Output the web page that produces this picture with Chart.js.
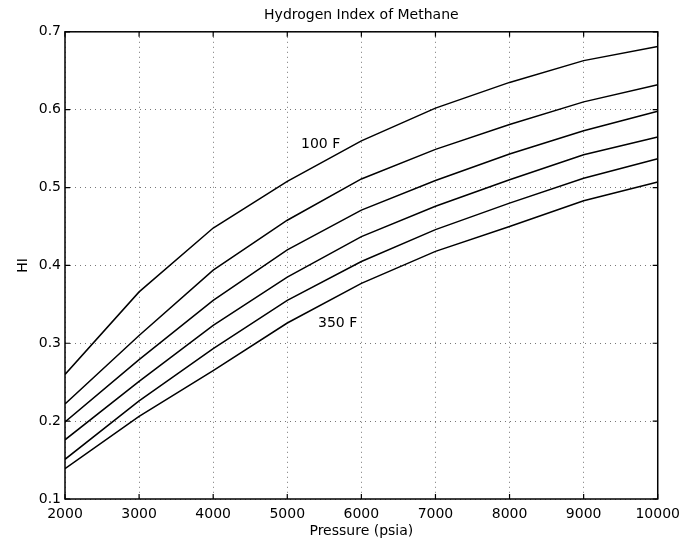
<!DOCTYPE html>
<html>
<head>
<meta charset="utf-8">
<title>Hydrogen Index of Methane</title>
<script src="https://cdn.jsdelivr.net/npm/chart.js@4"></script>
<style>
  html, body { margin: 0; padding: 0; background: #fff; }
  canvas { display: block; }
</style>
</head>
<body>
<canvas id="chart" width="687" height="545"></canvas>
<script>
// pressure in psia, HI for 100 F .. 350 F (top to bottom)
const pressure = [2000, 3000, 4000, 5000, 6000, 7000, 8000, 9000, 10000];
const hi100 = [0.260, 0.366, 0.448, 0.508, 0.560, 0.602, 0.635, 0.663, 0.681];
const hi150 = [0.222, 0.310, 0.394, 0.458, 0.511, 0.549, 0.581, 0.610, 0.632];
const hi200 = [0.199, 0.279, 0.355, 0.420, 0.471, 0.509, 0.543, 0.573, 0.598];
const hi250 = [0.176, 0.251, 0.323, 0.385, 0.437, 0.476, 0.510, 0.542, 0.565];
const hi300 = [0.151, 0.226, 0.293, 0.355, 0.405, 0.446, 0.480, 0.512, 0.537];
const hi350 = [0.139, 0.206, 0.265, 0.326, 0.377, 0.418, 0.450, 0.483, 0.507];

const curveLabels = [
  { text: "100 F", x: 5450, y: 0.555 },
  { text: "350 F", x: 5680, y: 0.326 }
];

const FONT = "'DejaVu Sans', sans-serif";
Chart.defaults.font.family = FONT;
Chart.defaults.color = "#000";

function toPoints(values) {
  return values.map((v, i) => ({ x: pressure[i], y: v }));
}

const series = [hi100, hi150, hi200, hi250, hi300, hi350];

// box round the plot, inward tick marks and the two curve labels
const matlabFrame = {
  id: "matlabFrame",
  afterDraw(chart) {
    const { ctx, chartArea: a, scales } = chart;
    const len = 5;
    ctx.save();
    ctx.strokeStyle = "#000";
    ctx.lineWidth = 1.5;
    ctx.strokeRect(a.left, a.top, a.right - a.left, a.bottom - a.top);
    ctx.lineWidth = 1.2;
    ctx.beginPath();
    scales.x.ticks.forEach(t => {
      const px = scales.x.getPixelForValue(t.value);
      ctx.moveTo(px, a.bottom); ctx.lineTo(px, a.bottom - len);
      ctx.moveTo(px, a.top); ctx.lineTo(px, a.top + len);
    });
    scales.y.ticks.forEach(t => {
      const py = scales.y.getPixelForValue(t.value);
      ctx.moveTo(a.left, py); ctx.lineTo(a.left + len, py);
      ctx.moveTo(a.right, py); ctx.lineTo(a.right - len, py);
    });
    ctx.stroke();

    ctx.fillStyle = "#000";
    ctx.font = "14px " + FONT;
    ctx.textAlign = "center";
    ctx.textBaseline = "middle";
    curveLabels.forEach(l => {
      ctx.fillText(l.text, scales.x.getPixelForValue(l.x), scales.y.getPixelForValue(l.y));
    });
    ctx.restore();
  }
};

new Chart(document.getElementById("chart"), {
  type: "line",
  data: {
    datasets: series.map(s => ({
      data: toPoints(s),
      borderColor: "#000",
      borderWidth: 1.5,
      pointRadius: 0,
      tension: 0,
      fill: false
    }))
  },
  options: {
    responsive: false,
    animation: false,
    layout: { padding: { left: 0, right: 29, top: 0, bottom: 0 } },
    scales: {
      x: {
        type: "linear",
        min: 2000,
        max: 10000,
        ticks: {
          stepSize: 1000,
          padding: 7,
          maxRotation: 0,
          color: "#000",
          font: { size: 14 },
          callback: v => String(v)
        },
        grid: { color: "#777", lineWidth: 1, drawTicks: false },
        border: { display: false, dash: [1, 4] },
        title: {
          display: true,
          text: "Pressure (psia)",
          color: "#000",
          font: { size: 14 },
          padding: { top: 0, bottom: 5 }
        },
        afterFit(s) { s.height = 46; }
      },
      y: {
        min: 0.1,
        max: 0.7,
        ticks: {
          stepSize: 0.1,
          padding: 4,
          color: "#000",
          font: { size: 14 },
          callback: v => v.toFixed(1)
        },
        grid: { color: "#777", lineWidth: 1, drawTicks: false },
        border: { display: false, dash: [1, 4] },
        title: {
          display: true,
          text: "HI",
          color: "#000",
          font: { size: 14 },
          padding: { top: 15, bottom: 0 }
        },
        afterFit(s) { s.width = 65; }
      }
    },
    plugins: {
      legend: { display: false },
      tooltip: { enabled: false },
      title: {
        display: true,
        text: "Hydrogen Index of Methane",
        color: "#000",
        fullSize: false,
        font: { size: 14, weight: "normal" },
        padding: { top: 7, bottom: 8 }
      }
    }
  },
  plugins: [matlabFrame]
});
</script>
</body>
</html>
